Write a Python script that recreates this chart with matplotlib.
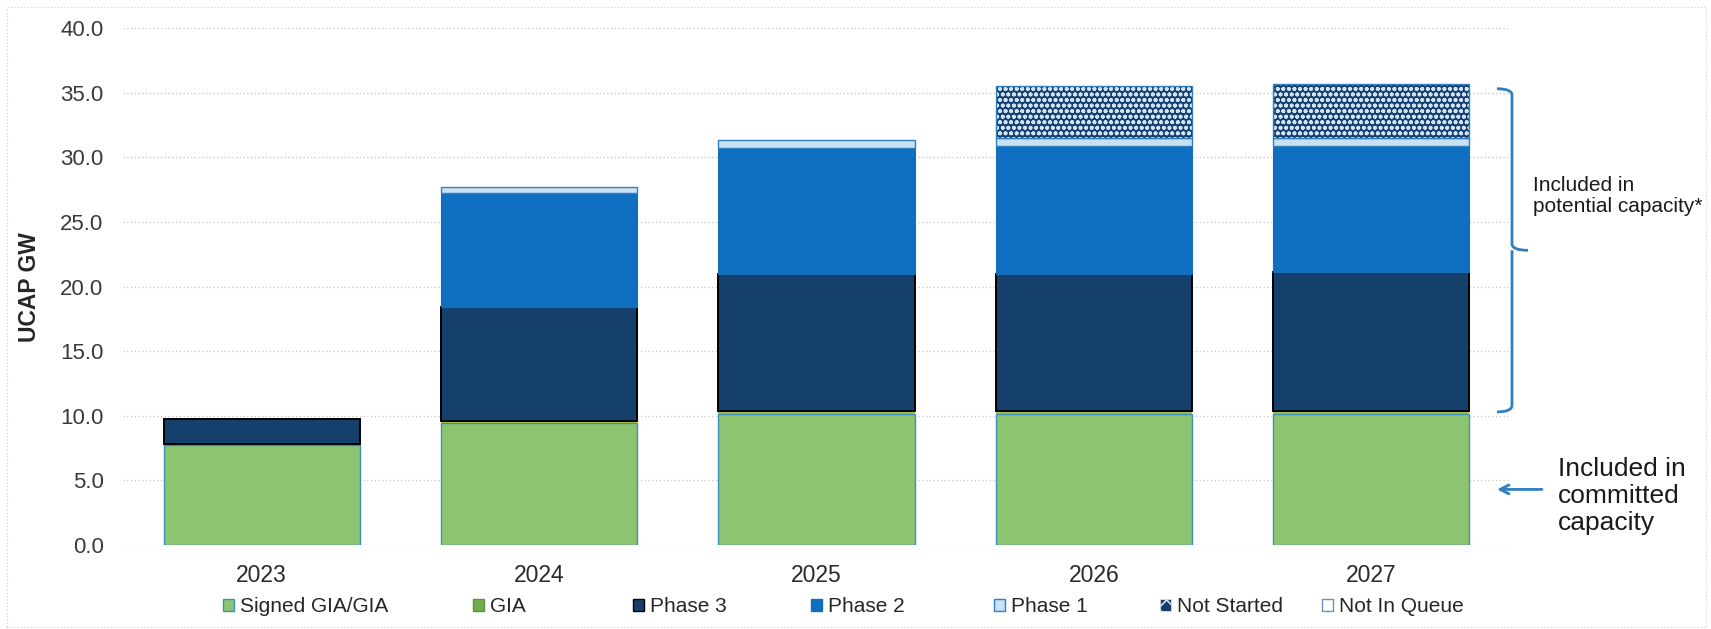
import matplotlib
matplotlib.use("Agg")
import matplotlib.pyplot as plt
import numpy as np
from matplotlib.patches import Patch, Rectangle
from matplotlib.path import Path
from matplotlib.patches import PathPatch
import matplotlib.transforms as mtransforms

plt.rcParams['font.family'] = ['Liberation Sans', 'DejaVu Sans']
plt.rcParams['hatch.linewidth'] = 1.2

# --- data (UCAP GW) ---
years = ['2023', '2024', '2025', '2026', '2027']
signed_gia = [7.7, 9.45, 10.1, 10.1, 10.15]
gia = [0.1, 0.15, 0.25, 0.25, 0.25]
phase3 = [1.95, 8.8, 10.65, 10.65, 10.7]
phase2 = [0.0, 8.8, 9.7, 9.9, 9.8]
phase1 = [0.0, 0.5, 0.6, 0.6, 0.6]
not_started = [0.0, 0.0, 0.0, 4.0, 4.15]
not_in_queue = [0.0, 0.0, 0.0, 0.0, 0.0]

yticks = [0, 5, 10, 15, 20, 25, 30, 35, 40]

W, H = 1711, 629
fig = plt.figure(figsize=(W / 100, H / 100), dpi=100)
ax = fig.add_axes([123 / W, (H - 545) / H, (1510 - 123) / W, (545 - 28) / H])

x = np.arange(len(years))
bw = 0.707

series = [
    ('Signed GIA/GIA', signed_gia, dict(color='#8dc470', edgecolor='#3d8fc0', linewidth=1.0)),
    ('GIA', gia, dict(color='#9dbb3c', edgecolor='none', linewidth=0)),
    ('Phase 3', phase3, dict(color='#16406c', edgecolor='#000000', linewidth=1.4)),
    ('Phase 2', phase2, dict(color='#0f6fc1', edgecolor='#1c6db3', linewidth=0.8)),
    ('Phase 1', phase1, dict(color='#c9e2f3', edgecolor='#2f7fc1', linewidth=1.0)),
]
legend_edges = {'Signed GIA/GIA': '#3d8fc0', 'GIA': '#5f8f3a',
                'Phase 3': '#000000', 'Phase 2': '#1c6db3', 'Phase 1': '#2f7fc1'}

bottom = np.zeros(len(years))
handles = []
for name, vals, style in series:
    vals = np.array(vals)
    mask = vals > 0
    ax.bar(x[mask], vals[mask], bw, bottom=bottom[mask], zorder=3, **style)
    bottom += vals
    fc = '#6fae4a' if name == 'GIA' else style['color']
    handles.append(Patch(facecolor=fc, edgecolor=legend_edges[name],
                         linewidth=1.0, label=name))

# Not Started: patterned fill with a blue outline
ns = np.array(not_started)
mask = ns > 0
ax.bar(x[mask], ns[mask], bw, bottom=bottom[mask], color='#173f6e',
       edgecolor='#cfe3f5', linewidth=0, hatch='ooo', zorder=3)
ax.bar(x[mask], ns[mask], bw, bottom=bottom[mask], fill=False,
       edgecolor='#2f7fc1', linewidth=1.0, zorder=4)
bottom += ns
handles.append(Patch(facecolor='#173f6e', edgecolor='#cfe3f5', hatch='xx',
                     linewidth=0.6, label='Not Started'))

nq = np.array(not_in_queue)
mask = nq > 0
if mask.any():
    ax.bar(x[mask], nq[mask], bw, bottom=bottom[mask], color='white',
           edgecolor='#7f9fbf', linewidth=1.0, zorder=3)
handles.append(Patch(facecolor='white', edgecolor='#6f8fb0', linewidth=1.0,
                     label='Not In Queue'))

# axes styling
ax.set_xlim(-0.5, len(years) - 0.5)
ax.set_ylim(0, 40)
ax.set_yticks(yticks)
ax.set_yticklabels([f'{v:.1f}' for v in yticks])
ax.set_xticks(x)
ax.set_xticklabels(years)
ax.tick_params(axis='y', length=0, pad=14, labelsize=16, labelcolor='#3a3a3a')
ax.tick_params(axis='x', length=0, pad=14, labelsize=16.5, labelcolor='#2a2a2a')
for s in ax.spines.values():
    s.set_visible(False)
ax.yaxis.grid(True, linestyle=(0, (1, 2)), color='#c4c4c4', linewidth=0.9, zorder=0)
ax.set_axisbelow(True)

fig.text(29 / W, 1 - 287 / H, 'UCAP GW', rotation=90, ha='center', va='center',
         fontsize=16.5, fontweight='bold', color='#262626')

# legend entries along the bottom, each at its own slot
legend_x = [223, 473, 633, 811, 994, 1160, 1322]
for h, lx in zip(handles, legend_x):
    leg = fig.legend(handles=[h], loc='center left',
                     bbox_to_anchor=(lx / W, 1 - 607 / H), frameon=False,
                     fontsize=15, handlelength=0.55, handleheight=0.55,
                     handletextpad=0.25, borderpad=0, borderaxespad=0)
    for t in leg.get_texts():
        t.set_color('#262626')

# bracket marking the potential-capacity range
tr = mtransforms.blended_transform_factory(fig.transFigure, ax.transData)
top_v = signed_gia[-1] + gia[-1] + phase3[-1] + phase2[-1] + phase1[-1] + not_started[-1] - 0.35
bot_v = signed_gia[-1] + gia[-1] - 0.1
mid_v = (top_v + bot_v) / 2
x0, x1, x2 = 1497 / W, 1512 / W, 1528 / W
r = 0.5
verts = [
    (x0, top_v), (x1, top_v), (x1, top_v - r),
    (x1, mid_v + r), (x1, mid_v), (x2, mid_v),
    (x1, mid_v), (x1, mid_v - r),
    (x1, bot_v + r), (x1, bot_v), (x0, bot_v),
]
codes = [Path.MOVETO, Path.CURVE3, Path.CURVE3,
         Path.LINETO, Path.CURVE3, Path.CURVE3,
         Path.MOVETO, Path.CURVE3,
         Path.LINETO, Path.CURVE3, Path.CURVE3]
bracket = PathPatch(Path(verts, codes), transform=tr, fill=False,
                    edgecolor='#2f7fc1', linewidth=2.0, clip_on=False)
fig.add_artist(bracket)

fig.text(1533 / W, 1 - 196 / H, 'Included in\npotential capacity*', ha='left',
         va='center', fontsize=15, color='#1a1a1a', linespacing=1.1)

fig.text(1558 / W, 1 - 496 / H, 'Included in\ncommitted\ncapacity', ha='left',
         va='center', fontsize=19, color='#1a1a1a', linespacing=1.16)
ax.annotate('', xy=(1497 / W, 4.3), xytext=(1542 / W, 4.3),
            xycoords=tr, textcoords=tr,
            arrowprops=dict(arrowstyle='->', color='#2f7fc1', lw=2.0,
                            mutation_scale=16, shrinkA=0, shrinkB=0),
            annotation_clip=False)

# faint dotted frame around the chart area
fig.add_artist(Rectangle((7 / W, 2 / H), (W - 12) / W, (H - 9) / H,
                         transform=fig.transFigure, fill=False,
                         edgecolor='#cfcfcf', linewidth=0.8,
                         linestyle=(0, (1, 2))))

fig.savefig('out.png', dpi=100, facecolor='white')
